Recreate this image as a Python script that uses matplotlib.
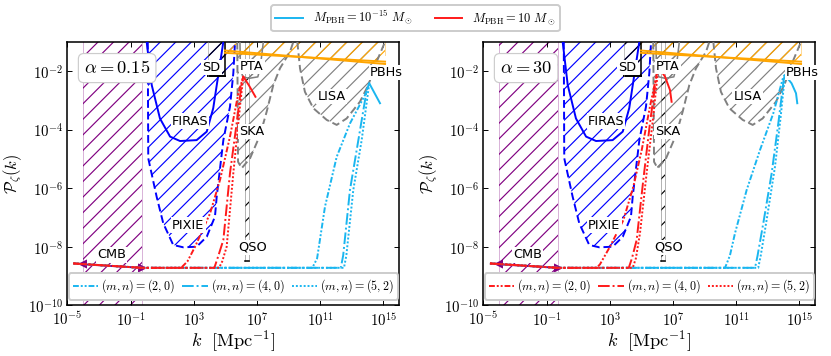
import numpy as np
import matplotlib.pyplot as plt
from matplotlib.ticker import FuncFormatter

plt.rcParams['mathtext.fontset'] = 'cm'
plt.rcParams['hatch.linewidth'] = 0.6

# ---- constraint regions (log10 k, log10 P) ----
cmb_k = [-4.0, -0.3]
cmb_line_p = [-8.6, -8.72]
firas_k = [0.02, 0.34, 0.86, 1.5, 2.13, 3.18, 3.82, 4.23, 4.55, 4.87]
firas_p = [-1.0, -2.48, -3.62, -4.24, -4.39, -4.36, -4.07, -3.27, -2.14, -1.0]
pixie_k = [0.09, 0.12, 0.65, 1.07, 1.7, 2.34, 3.18, 3.82, 4.34, 4.45, 4.87, 5.29, 5.5, 5.61]
pixie_p = [-1.0, -4.98, -6.29, -7.2, -7.94, -8.02, -8.0, -7.66, -6.97, -6.29, -4.36, -3.22, -2.08, -1.0]
sd_k = [3.92, 4.97]
sd_p = -2.17
pta_k = [5.92, 5.95, 6.1, 6.5, 7.05, 7.2, 7.4]
pta_p = [-1.0, -1.9, -2.2, -2.25, -2.2, -1.9, -1.0]
ska_k = [5.75, 5.8, 6.03, 6.56, 7.19, 7.61, 8.03, 8.45, 9.09, 9.3]
ska_p = [-1.0, -5.1, -5.32, -4.98, -4.19, -3.39, -2.48, -1.91, -1.34, -1.0]
qso_k = [6.22, 6.5]
qso_p = [-8.5, -1.0]
lisa_k = [9.55, 9.72, 10.03, 10.56, 11.41, 12.04, 12.67, 13.51, 14.04, 14.57, 15.1]
lisa_p = [-1.0, -1.91, -2.71, -3.27, -3.67, -3.84, -3.62, -3.05, -2.48, -1.68, -1.0]
pbh_k = [4.97, 15.1]
pbh_p1 = [-1.30, -1.76]
pbh_p2 = [-1.38, -1.68]

# ---- power spectra, alpha = 0.15 ----
cy20_L_k = [-4.62, -0.3, 10.5, 10.8, 11.3, 12.04, 12.88, 13.83, 14.1]
cy20_L_p = [-8.57, -8.72, -8.72, -8.4, -6.63, -4.93, -3.79, -2.82, -2.42]
cy40_L_k = [-4.62, -0.3, 12.3, 12.45, 12.88, 13.41, 13.94, 14.1]
cy40_L_p = [-8.57, -8.72, -8.72, -8.3, -6.06, -4.36, -2.65, -2.42]
cy52_L_k = [-4.62, -0.3, 12.5, 12.65, 13.09, 13.62, 14.1]
cy52_L_p = [-8.57, -8.72, -8.72, -8.3, -6.06, -4.36, -2.42]
cy_tail_L_k = [14.1, 14.78]
cy_tail_L_p = [-2.42, -3.10]
rd20_L_k = [-4.62, -0.3, 2.2, 2.6, 3.08, 4.03, 4.66, 5.29, 5.82, 6.13]
rd20_L_p = [-8.57, -8.72, -8.72, -8.5, -8.0, -6.86, -5.72, -4.24, -2.76, -2.19]
rd40_L_k = [-4.62, -0.3, 4.3, 4.5, 4.87, 5.29, 5.71, 6.03, 6.13]
rd40_L_p = [-8.57, -8.72, -8.72, -8.4, -7.77, -5.49, -3.79, -2.42, -2.19]
rd52_L_k = [-4.62, -0.3, 4.6, 4.8, 5.08, 5.5, 5.92, 6.13]
rd52_L_p = [-8.57, -8.72, -8.72, -8.5, -8.0, -5.49, -3.22, -2.19]
rd_tail_L_k = [6.13, 6.5, 6.9]
rd_tail_L_p = [-2.19, -2.5, -2.88]

# ---- power spectra, alpha = 30 ----
cy20_R_k = [-4.58, -0.3, 10.29, 10.6, 10.92, 11.66, 12.5, 13.34, 13.98, 14.08]
cy20_R_p = [-8.57, -8.72, -8.72, -8.3, -7.54, -6.06, -4.70, -3.45, -2.19, -2.14]
cy40_R_k = [-4.58, -0.3, 12.19, 12.35, 12.71, 13.24, 13.66, 14.0, 14.08]
cy40_R_p = [-8.57, -8.72, -8.72, -8.3, -7.2, -5.49, -3.79, -2.3, -2.14]
cy52_R_k = [-4.58, -0.3, 12.39, 12.55, 12.92, 13.45, 13.81, 14.08]
cy52_R_p = [-8.57, -8.72, -8.72, -8.3, -7.09, -5.27, -3.56, -2.14]
cy_tail_R_k = [14.08, 14.50, 14.78, 14.86]
cy_tail_R_p = [-2.14, -2.42, -2.76, -3.10]
rd20_R_k = [-4.58, -0.3, 2.17, 2.38, 3.01, 3.86, 4.49, 5.02, 5.54, 6.07]
rd20_R_p = [-8.57, -8.72, -8.72, -8.6, -8.0, -7.09, -5.95, -4.7, -3.22, -1.85]
rd40_R_k = [-4.58, -0.3, 4.2, 4.4, 4.70, 5.12, 5.54, 5.97, 6.07]
rd40_R_p = [-8.57, -8.72, -8.72, -8.4, -7.77, -5.72, -3.79, -2.08, -1.85]
rd52_R_k = [-4.58, -0.3, 4.45, 4.65, 4.91, 5.33, 5.75, 6.07]
rd52_R_p = [-8.57, -8.72, -8.72, -8.4, -7.54, -5.49, -3.56, -1.85]
rd_tail_R_k = [6.07, 6.49, 6.81, 6.91]
rd_tail_R_p = [-1.85, -2.19, -2.65, -3.05]

mn_labels = ['$(m,n) = (2,0)$', '$(m,n) = (4,0)$', '$(m,n) = (5,2)$']
x_ticks = [-5, -1, 3, 7, 11, 15]
y_ticks = [-10, -8, -6, -4, -2]

styles = [(0, (3, 1, 1, 1, 1, 1)), (0, (6, 1.5, 1, 1.5)), (0, (1, 1))]
CYAN = '#1ab6f0'
RED = '#ff1a1a'
TOP = -0.8
HATCH = '///'


def L(v):
    return 10.0 ** np.asarray(v, dtype=float)


def hatch_region(ax, k, lo, hi, color, z=1):
    ax.fill_between(L(k), L(lo), L(hi), facecolor='none', edgecolor=color,
                    hatch=HATCH, linewidth=0, zorder=z)


def label(ax, k, p, s):
    ax.text(10 ** k, 10 ** p, s, fontsize=6.6, ha='center', va='center', zorder=6,
            bbox=dict(facecolor='white', edgecolor='none', pad=0.6))


pow_fmt = FuncFormatter(lambda v, pos: r'$10^{%d}$' % int(round(np.log10(v))))


def draw_panel(ax, curves, tails, alpha_txt, leg_color):
    # CMB
    ax.axvspan(L(cmb_k[0]), L(cmb_k[1]), facecolor='none', edgecolor='purple',
               hatch=HATCH, linewidth=0, zorder=1)
    for kk in cmb_k:
        ax.axvline(L(kk), color='purple', lw=0.5, alpha=0.3, zorder=1)
    # PIXIE / FIRAS
    hatch_region(ax, pixie_k, pixie_p, [TOP] * len(pixie_k), 'blue')
    ax.plot(L(pixie_k), L(pixie_p), color='blue', ls=(0, (4, 2)), lw=1.0, zorder=3)
    ax.plot(L(firas_k), L(firas_p), color='blue', ls='-', lw=1.0, zorder=3)
    # SD
    hatch_region(ax, sd_k, [sd_p] * 2, [TOP] * 2, 'black')
    ax.plot(L(sd_k), L([sd_p] * 2), color='black', lw=1.0, zorder=3)
    ax.plot(L([sd_k[1]] * 2), L([sd_p, TOP]), color='black', lw=0.8, zorder=3)
    ax.plot(L([sd_k[0]] * 2), L([sd_p, TOP]), color='gray', lw=0.5, alpha=0.5, zorder=3)
    # PTA / SKA
    hatch_region(ax, ska_k, ska_p, [TOP] * len(ska_k), 'gray')
    ax.plot(L(ska_k), L(ska_p), color='gray', ls=(0, (4, 2)), lw=1.0, zorder=3)
    hatch_region(ax, pta_k, pta_p, [TOP] * len(pta_k), 'gray')
    ax.plot(L(pta_k), L(pta_p), color='gray', ls='-', lw=0.8, zorder=3)
    # QSO
    ax.fill_between(L(qso_k), L([qso_p[0]] * 2), L([qso_p[1]] * 2), facecolor='white',
                    edgecolor='black', hatch=HATCH, linewidth=0, zorder=2)
    for kk in qso_k:
        ax.plot(L([kk, kk]), L(qso_p), color='gray', lw=0.5, alpha=0.6, zorder=2)
    ax.plot(L(qso_k), L([qso_p[0]] * 2), color='black', lw=0.8, zorder=2)
    # LISA
    hatch_region(ax, lisa_k, lisa_p, [TOP] * len(lisa_k), 'gray')
    ax.plot(L(lisa_k), L(lisa_p), color='gray', ls=(0, (4, 2)), lw=1.0, zorder=3)
    # PBHs
    hatch_region(ax, pbh_k, pbh_p1, [TOP] * 2, 'orange', z=2)
    ax.plot(L(pbh_k), L(pbh_p1), color='orange', lw=1.0, zorder=3)
    ax.plot(L(pbh_k), L(pbh_p2), color='orange', lw=1.0, zorder=3)
    for kk in pbh_k:
        ax.axvline(L(kk), ymin=0.95, color='orange', lw=0.5, alpha=0.4, zorder=2)

    # CMB amplitude
    ax.plot(L(cmb_k), L(cmb_line_p), color='purple', lw=1.0, zorder=3)
    ax.plot(L(cmb_k[0]), L(cmb_line_p[0]), marker='<', color='purple', ms=3, zorder=3)
    ax.plot(L(cmb_k[1]), L(cmb_line_p[1]), marker='>', color='purple', ms=3, zorder=3)

    # power spectra
    for color, group, tail in zip([CYAN, RED], curves, tails):
        for (k, p), ls in zip(group, styles):
            ax.plot(L(k), L(p), color=color, ls=ls, lw=1.0, zorder=4)
        ax.plot(L(tail[0]), L(tail[1]), color=color, lw=1.0, zorder=4)

    label(ax, -2.19, -8.28, 'CMB')
    label(ax, 2.76, -3.71, 'FIRAS')
    label(ax, 2.65, -7.26, 'PIXIE')
    label(ax, 4.13, -1.87, 'SD')
    label(ax, 6.66, -1.85, 'PTA')
    label(ax, 6.66, -4.07, 'SKA')
    label(ax, 11.72, -2.88, 'LISA')
    label(ax, 15.2, -2.04, 'PBHs')
    label(ax, 6.72, -8.02, 'QSO')

    ax.text(0.05, 0.90, alpha_txt, transform=ax.transAxes, fontsize=9.5,
            ha='left', va='center', zorder=7,
            bbox=dict(boxstyle='round,pad=0.3', facecolor='white', edgecolor='#cccccc', lw=0.6))

    handles = [plt.Line2D([], [], color=leg_color, ls=ls, lw=1.0) for ls in styles]
    leg = ax.legend(handles, mn_labels, loc='lower center', bbox_to_anchor=(0.5, 0.022),
                    ncol=3, fontsize=6.2, handlelength=2.1, handletextpad=0.25,
                    columnspacing=0.6, borderpad=0.35, borderaxespad=0,
                    framealpha=1, edgecolor='#cccccc', fancybox=True)
    leg.set_zorder(8)

    ax.set_xscale('log')
    ax.set_yscale('log')
    ax.set_xlim(1e-5, 1e16)
    ax.set_ylim(1e-10, 1e-1)
    ax.set_xticks(L(x_ticks))
    ax.set_yticks(L(y_ticks))
    ax.xaxis.set_major_formatter(pow_fmt)
    ax.yaxis.set_major_formatter(pow_fmt)
    ax.minorticks_off()
    ax.tick_params(direction='in', top=True, right=True, labelsize=7.6, length=2.5, width=0.5)
    ax.tick_params(axis='x', pad=3)
    ax.tick_params(axis='y', pad=2)
    ax.set_xlabel(r'$k\ \ [\mathrm{Mpc}^{-1}]$', fontsize=9.5, labelpad=0)
    ax.set_ylabel(r'$\mathcal{P}_\zeta(k)$', fontsize=8.5, labelpad=2)


fig = plt.figure(figsize=(831 / 140, 356 / 140), dpi=140)
axL = fig.add_axes([0.081, 0.1424, 0.3995, 0.7404])
axR = fig.add_axes([0.5816, 0.1424, 0.3995, 0.7404])

curves_L = [[(cy20_L_k, cy20_L_p), (cy40_L_k, cy40_L_p), (cy52_L_k, cy52_L_p)],
            [(rd20_L_k, rd20_L_p), (rd40_L_k, rd40_L_p), (rd52_L_k, rd52_L_p)]]
tails_L = [(cy_tail_L_k, cy_tail_L_p), (rd_tail_L_k, rd_tail_L_p)]
curves_R = [[(cy20_R_k, cy20_R_p), (cy40_R_k, cy40_R_p), (cy52_R_k, cy52_R_p)],
            [(rd20_R_k, rd20_R_p), (rd40_R_k, rd40_R_p), (rd52_R_k, rd52_R_p)]]
tails_R = [(cy_tail_R_k, cy_tail_R_p), (rd_tail_R_k, rd_tail_R_p)]

draw_panel(axL, curves_L, tails_L, r'$\alpha = 0.15$', CYAN)
draw_panel(axR, curves_R, tails_R, r'$\alpha = 30$', RED)

top_handles = [plt.Line2D([], [], color=CYAN, lw=1.0), plt.Line2D([], [], color=RED, lw=1.0)]
fig.legend(top_handles, [r'$M_{\rm PBH} = 10^{-15}\ M_\odot$', r'$M_{\rm PBH} = 10\ M_\odot$'],
           loc='center', bbox_to_anchor=(0.5, 0.949), ncol=2, fontsize=6.4,
           handlelength=2.2, handletextpad=0.8, columnspacing=1.8, borderpad=0.3,
           framealpha=1, edgecolor='#cccccc')

fig.savefig('out.png', dpi=140)
